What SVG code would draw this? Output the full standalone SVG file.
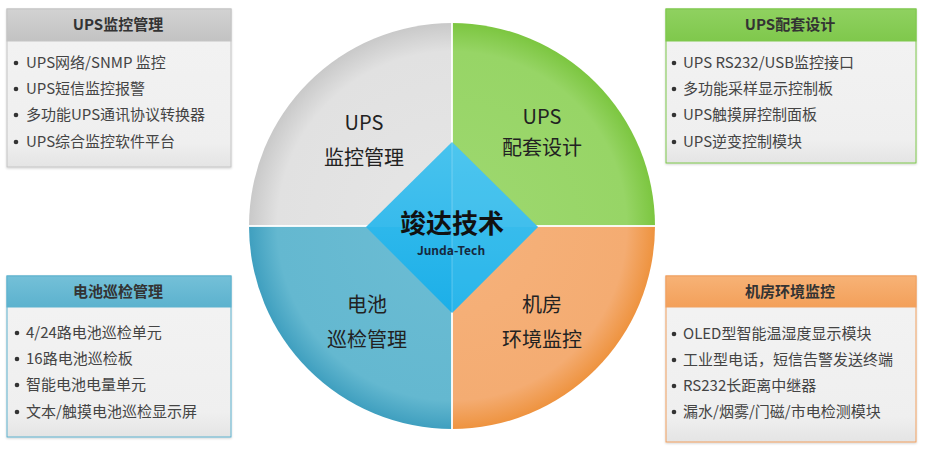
<svg xmlns="http://www.w3.org/2000/svg" width="925" height="452" viewBox="0 0 925 452">
<defs>
<style>
.t{font-family:"Noto Sans CJK SC","Liberation Sans",sans-serif}
.ttl{font-size:15px;font-weight:bold;fill:#333;text-anchor:middle}
.it{font-size:15px;fill:#444}
.q{font-size:20px;fill:#222;text-anchor:middle}
.b{fill:#333}
.body{fill:url(#bodyG)}
</style>
<radialGradient id="gGray" gradientUnits="userSpaceOnUse" cx="452" cy="226" r="203">
<stop offset="0" stop-color="#e6e6e6"/><stop offset="0.86" stop-color="#e1e1e1"/><stop offset="1" stop-color="#c9c9c9"/></radialGradient>
<radialGradient id="gGreen" gradientUnits="userSpaceOnUse" cx="452" cy="226" r="203">
<stop offset="0" stop-color="#9ed870"/><stop offset="0.86" stop-color="#97d566"/><stop offset="1" stop-color="#7cc640"/></radialGradient>
<radialGradient id="gOrange" gradientUnits="userSpaceOnUse" cx="452" cy="226" r="203">
<stop offset="0" stop-color="#f6b27c"/><stop offset="0.86" stop-color="#f4ac72"/><stop offset="1" stop-color="#ee933f"/></radialGradient>
<radialGradient id="gBlue" gradientUnits="userSpaceOnUse" cx="452" cy="226" r="203">
<stop offset="0" stop-color="#6cbdd4"/><stop offset="0.86" stop-color="#64b8d0"/><stop offset="1" stop-color="#3f9fbf"/></radialGradient>
<linearGradient id="gDia" x1="0" y1="0" x2="0" y2="1">
<stop offset="0" stop-color="#3ec0ee"/><stop offset="1" stop-color="#1cafe8"/></linearGradient>
<linearGradient id="bodyG" x1="0" y1="0" x2="0" y2="1">
<stop offset="0" stop-color="#f3f3f3"/><stop offset="0.85" stop-color="#efefef"/><stop offset="1" stop-color="#e4e4e4"/></linearGradient>
<linearGradient id="hGray" x1="0" y1="0" x2="0" y2="1"><stop offset="0" stop-color="#d2d2d2"/><stop offset="1" stop-color="#c2c2c2"/></linearGradient>
<linearGradient id="hGreen" x1="0" y1="0" x2="0" y2="1"><stop offset="0" stop-color="#8fd160"/><stop offset="1" stop-color="#7fc84c"/></linearGradient>
<linearGradient id="hBlue" x1="0" y1="0" x2="0" y2="1"><stop offset="0" stop-color="#74c0d8"/><stop offset="1" stop-color="#5cb2ce"/></linearGradient>
<linearGradient id="hOrange" x1="0" y1="0" x2="0" y2="1"><stop offset="0" stop-color="#f7b276"/><stop offset="1" stop-color="#f3a05a"/></linearGradient>
<filter id="sh" x="-5%" y="-5%" width="110%" height="115%"><feDropShadow dx="0" dy="1" stdDeviation="1.2" flood-color="#000" flood-opacity="0.18"/></filter>
</defs>
<rect width="925" height="452" fill="#fff"/>

<g id="wheel">
<path d="M452,226 L249,226 A203,203 0 0 1 452,23 Z" fill="url(#gGray)"/>
<path d="M452,226 L452,23 A203,203 0 0 1 655,226 Z" fill="url(#gGreen)"/>
<path d="M452,226 L655,226 A203,203 0 0 1 452,429 Z" fill="url(#gOrange)"/>
<path d="M452,226 L452,429 A203,203 0 0 1 249,226 Z" fill="url(#gBlue)"/>
<line x1="249" y1="226" x2="655" y2="226" stroke="#fff" stroke-width="2" stroke-opacity="0.9"/>
<line x1="452" y1="23" x2="452" y2="429" stroke="#fff" stroke-width="2" stroke-opacity="0.9"/>
</g>

<g id="center">
<polygon points="452,142 538,227 452,313 366,227" fill="url(#gDia)"/>
<polygon points="452,142 538,227 452,313" fill="#5ccdf0" fill-opacity="0.22"/>
<polygon points="366,227 452,142 538,227" fill="#ffffff" fill-opacity="0.05"/>
<line x1="452" y1="142" x2="452" y2="313" stroke="#fff" stroke-width="1" stroke-opacity="0.25"/>
<text class="t" x="452" y="233" font-size="26" font-weight="bold" fill="#111" text-anchor="middle">竣达技术</text>
<text class="t" x="451" y="255" font-size="12" font-weight="bold" fill="#16283e" text-anchor="middle">Junda-Tech</text>
</g>

<g id="q-ups-monitor">
<text class="t q" x="364" y="130">UPS</text>
<text class="t q" x="364" y="165">监控管理</text>
</g>
<g id="q-ups-design">
<text class="t q" x="542" y="124">UPS</text>
<text class="t q" x="542" y="155">配套设计</text>
</g>
<g id="q-battery">
<text class="t q" x="367" y="312">电池</text>
<text class="t q" x="367" y="347">巡检管理</text>
</g>
<g id="q-room">
<text class="t q" x="542" y="312">机房</text>
<text class="t q" x="542" y="347">环境监控</text>
</g>

<g id="box-ups-monitor">
<rect x="7" y="9" width="224" height="158" class="body" stroke="#c4c4c4" stroke-width="1" filter="url(#sh)"/>
<rect x="7" y="9" width="224" height="32" fill="url(#hGray)" stroke="#c4c4c4" stroke-width="1"/>
<text class="t ttl" x="118" y="30">UPS监控管理</text>
<circle class="b" cx="16" cy="63" r="2.3"/><text class="t it" x="26" y="68">UPS网络/SNMP 监控</text>
<circle class="b" cx="16" cy="89" r="2.3"/><text class="t it" x="26" y="94">UPS短信监控报警</text>
<circle class="b" cx="16" cy="115" r="2.3"/><text class="t it" x="26" y="120">多功能UPS通讯协议转换器</text>
<circle class="b" cx="16" cy="142" r="2.3"/><text class="t it" x="26" y="147">UPS综合监控软件平台</text>
</g>

<g id="box-ups-design">
<rect x="666" y="9" width="250" height="154" class="body" stroke="#7fc84c" stroke-width="1" filter="url(#sh)"/>
<rect x="666" y="9" width="250" height="32" fill="url(#hGreen)" stroke="#7fc84c" stroke-width="1"/>
<text class="t ttl" x="790" y="30">UPS配套设计</text>
<circle class="b" cx="674" cy="63" r="2.3"/><text class="t it" x="683" y="68">UPS RS232/USB监控接口</text>
<circle class="b" cx="674" cy="89" r="2.3"/><text class="t it" x="683" y="94">多功能采样显示控制板</text>
<circle class="b" cx="674" cy="115" r="2.3"/><text class="t it" x="683" y="120">UPS触摸屏控制面板</text>
<circle class="b" cx="674" cy="142" r="2.3"/><text class="t it" x="683" y="147">UPS逆变控制模块</text>
</g>

<g id="box-battery">
<rect x="7" y="276" width="224" height="161" class="body" stroke="#5cb2ce" stroke-width="1" filter="url(#sh)"/>
<rect x="7" y="276" width="224" height="31" fill="url(#hBlue)" stroke="#5cb2ce" stroke-width="1"/>
<text class="t ttl" x="118" y="297">电池巡检管理</text>
<circle class="b" cx="17" cy="333" r="2.3"/><text class="t it" x="26" y="338">4/24路电池巡检单元</text>
<circle class="b" cx="17" cy="359" r="2.3"/><text class="t it" x="26" y="364">16路电池巡检板</text>
<circle class="b" cx="17" cy="385" r="2.3"/><text class="t it" x="26" y="390">智能电池电量单元</text>
<circle class="b" cx="17" cy="412" r="2.3"/><text class="t it" x="26" y="417">文本/触摸电池巡检显示屏</text>
</g>

<g id="box-room">
<rect x="666" y="276" width="250" height="166" class="body" stroke="#f0a060" stroke-width="1" filter="url(#sh)"/>
<rect x="666" y="276" width="250" height="31" fill="url(#hOrange)" stroke="#f0a060" stroke-width="1"/>
<text class="t ttl" x="790" y="297">机房环境监控</text>
<circle class="b" cx="674" cy="334" r="2.3"/><text class="t it" x="683" y="339">OLED型智能温湿度显示模块</text>
<circle class="b" cx="674" cy="360" r="2.3"/><text class="t it" x="683" y="365">工业型电话，短信告警发送终端</text>
<circle class="b" cx="674" cy="386" r="2.3"/><text class="t it" x="683" y="391">RS232长距离中继器</text>
<circle class="b" cx="674" cy="412" r="2.3"/><text class="t it" x="683" y="417">漏水/烟雾/门磁/市电检测模块</text>
</g>
</svg>
